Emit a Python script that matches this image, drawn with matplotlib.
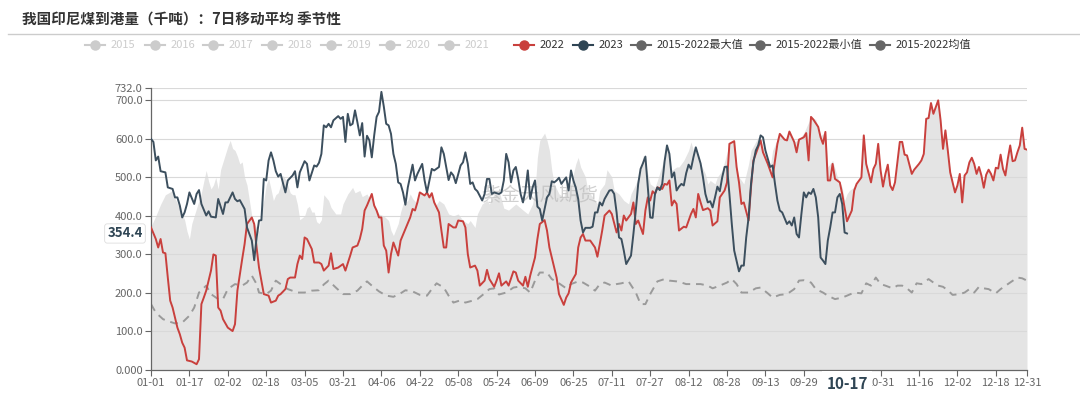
import matplotlib
matplotlib.use("Agg")
import matplotlib.pyplot as plt
from matplotlib.lines import Line2D

plt.rcParams['font.family'] = ['Noto Sans CJK SC', 'DejaVu Sans']

# 横轴：闰年日历的日序号 (0 = 01-01, 365 = 12-31)
tick_days = [0, 16, 32, 48, 64, 80, 96, 112, 128, 144, 160, 176, 192, 208,
             224, 240, 256, 272, 288, 304, 320, 336, 352, 365]
tick_labels = ['01-01', '01-17', '02-02', '02-18', '03-05', '03-21', '04-06',
               '04-22', '05-08', '05-24', '06-09', '06-25', '07-11', '07-27',
               '08-12', '08-28', '09-13', '09-29', '', '10-31', '11-16',
               '12-02', '12-18', '12-31']
y_ticks = [0, 100, 200, 300, 400, 500, 600, 700, 732]
y_labels = ['0.000', '100.0', '200.0', '300.0', '400.0', '500.0', '600.0', '700.0', '732.0']

# 2022
d2022 = [0, 2, 3, 4, 5, 6, 7, 8, 9, 11, 12, 13, 14, 15, 17, 19, 20, 21, 22, 23, 25, 26, 27, 28, 29, 30,
         32, 34, 35, 36, 38, 39, 40, 42, 43, 44, 45, 46, 47, 49, 50, 52, 53, 54, 56, 57, 58, 60, 61, 62,
         63, 64, 65, 67, 68, 70, 71, 72, 74, 75, 76, 78, 80, 81, 83, 84, 86, 87, 88, 89, 90, 92, 93, 94,
         95, 96, 97, 98, 99, 100, 101, 103, 104, 106, 108, 109, 110, 111, 112, 114, 115, 116, 117, 118,
         120, 121, 122, 123, 124, 126, 127, 128, 130, 131, 132, 133, 135, 136, 137, 139, 140, 141, 143,
         144, 145, 146, 148, 149, 151, 152, 153, 155, 156, 157, 158, 160, 161, 162, 164, 165, 166, 167,
         168, 169, 170, 172, 173, 174, 175, 177, 178, 179, 180, 181, 183, 185, 186, 187, 188, 189, 191,
         192, 194, 195, 196, 197, 198, 200, 201, 202, 203, 205, 206, 207, 208, 209, 210, 211, 213, 214,
         215, 216, 217, 218, 219, 220, 222, 223, 225, 226, 227, 228, 229, 230, 232, 233, 234, 236, 237,
         239, 240, 241, 243, 244, 245, 246, 247, 249, 250, 251, 252, 254, 255, 257, 259, 260, 261, 262,
         264, 265, 266, 268, 269, 270, 272, 273, 274, 275, 276, 278, 279, 280, 281, 282, 283, 284, 285,
         287, 288, 290, 291, 292, 293, 294, 296, 297, 298, 300, 301, 302, 303, 304, 305, 306, 307, 308,
         309, 310, 312, 313, 314, 315, 317, 318, 320, 321, 322, 323, 324, 325, 326, 328, 329, 330, 331,
         332, 333, 335, 336, 337, 338, 339, 340, 341, 342, 343, 344, 345, 346, 347, 348, 349, 350, 351,
         352, 353, 354, 355, 356, 357, 358, 359, 360, 361, 362, 363, 364, 365]
v2022 = [370, 340, 318, 340, 305, 303, 240, 180, 162, 110, 93, 71, 58, 25, 22, 15, 28, 171, 188, 206, 258, 300, 297, 162, 154, 132,
         110, 101, 119, 206, 288, 327, 379, 396, 379, 318, 266, 232, 197, 193, 175, 180, 193, 197, 210, 236, 240, 240, 275, 297,
         288, 344, 340, 314, 279, 279, 275, 258, 271, 303, 262, 266, 275, 258, 297, 318, 323, 340, 366, 414, 427, 457, 427, 414,
         396, 396, 323, 310, 253, 301, 331, 297, 336, 366, 396, 418, 414, 435, 461, 453, 461, 448, 459, 435,
         409, 362, 318, 318, 379, 370, 370, 388, 386, 370, 301, 266, 271, 258, 219, 232, 260, 236, 216,
         232, 251, 219, 230, 219, 256, 253, 232, 219, 242, 216, 245, 292, 340, 379, 389, 362, 318, 292,
         266, 240, 197, 169, 188, 199, 227, 249, 318, 344, 353, 336, 336, 318, 294, 327, 362, 401, 414,
         405, 357, 379, 362, 401, 388, 405, 435, 379, 388, 353, 414, 448, 440, 464, 457, 474, 470, 483,
         481, 492, 427, 440, 431, 362, 372, 370, 405, 418, 396, 457, 435, 415, 420, 414, 375, 386, 448,
         466, 487, 587, 594, 527, 487, 431, 435, 388, 474, 544, 561, 596, 565, 535, 500, 544, 587, 613,
         598, 596, 619, 592, 565, 598, 604, 615, 544, 657, 650, 631, 604, 587, 618, 492, 492, 535, 496,
         487, 457, 386, 400, 414, 466, 483, 500, 609, 535, 487, 522, 535, 587, 518, 476, 509, 533, 479,
         467, 487, 592, 592, 559, 557, 509, 520, 535, 544, 561, 652, 654, 693, 665, 700, 648, 574, 622,
         570, 513, 461, 479, 509, 435, 505, 513, 539, 551, 535, 509, 527, 505, 473, 507, 520, 509, 492,
         525, 523, 559, 522, 505, 548, 583, 542, 544, 565, 583, 629, 574, 572]

# 2023
d2023 = [0, 1, 2, 3, 4, 6, 7, 9, 10, 11, 12, 13, 14, 15, 16, 18, 19, 20, 21, 23, 24, 25, 27, 28, 30, 31,
         32, 34, 35, 36, 37, 39, 40, 41, 42, 43, 44, 45, 46, 47, 48, 49, 50, 51, 52, 53, 54, 56, 57, 59,
         60, 61, 62, 64, 65, 66, 68, 69, 70, 71, 72, 73, 74, 75, 76, 78, 79, 80, 81, 82, 83, 84, 85, 86,
         87, 88, 89, 90, 91, 92, 93, 94, 95, 96, 97, 98, 99, 100, 101, 102, 103, 104, 105, 106, 107, 109,
         110, 111, 113, 114, 115, 116, 117, 118, 120, 121, 122, 123, 124, 125, 126, 127, 129, 130, 131,
         132, 133, 134, 135, 136, 138, 139, 140, 141, 142, 143, 145, 146, 147, 148, 149, 150, 151, 152,
         153, 154, 155, 156, 157, 158, 159, 160, 161, 162, 163, 165, 166, 167, 168, 169, 170, 171, 172,
         173, 174, 175, 176, 177, 178, 179, 180, 181, 183, 184, 185, 186, 187, 188, 189, 191, 192, 193,
         194, 195, 196, 197, 198, 200, 201, 202, 203, 204, 205, 206, 207, 208, 209, 210, 211, 212, 213,
         214, 215, 216, 217, 218, 219, 220, 221, 222, 223, 224, 225, 226, 227, 228, 229, 230, 231, 232,
         233, 234, 235, 236, 237, 238, 239, 240, 241, 242, 243, 245, 246, 247, 248, 249, 250, 251, 252,
         253, 254, 255, 256, 257, 258, 259, 260, 261, 262, 263, 265, 266, 267, 268, 269, 270, 271, 272,
         273, 274, 275, 276, 277, 278, 279, 280, 281, 282, 283, 284, 285, 286, 287, 288, 289, 290]
v2023 = [600, 592, 544, 554, 516, 513, 474, 470, 448, 448, 427, 396, 409, 431, 461, 431, 457, 467, 431, 401, 412, 398, 396, 444, 405, 435,
         435, 461, 444, 438, 441, 418, 370, 353, 336, 285, 344, 388, 389, 496, 492, 544, 565, 544, 516, 502, 509, 461, 492, 505,
         516, 474, 513, 542, 535, 492, 531, 528, 538, 561, 635, 630, 639, 630, 648, 659, 652, 657, 592, 665, 635, 639, 674, 643,
         609, 641, 554, 608, 596, 552, 609, 657, 670, 722, 684, 639, 635, 613, 561, 535, 487, 483, 461, 429, 474, 533,
         492, 509, 535, 492, 461, 492, 522, 518, 527, 578, 561, 527, 493, 513, 505, 485, 531, 539, 565,
         535, 483, 487, 470, 464, 440, 457, 496, 496, 457, 461, 457, 461, 492, 561, 539, 487, 518, 527,
         496, 457, 435, 466, 518, 444, 474, 492, 424, 418, 388, 448, 457, 490, 487, 492, 499, 483, 492,
         500, 466, 518, 492, 473, 444, 388, 357, 369, 369, 372, 409, 409, 435, 427, 444, 466, 467, 457,
         409, 344, 340, 310, 275, 297, 353, 414, 483, 522, 537, 554, 474, 396, 395, 457, 474, 467, 483,
         542, 583, 561, 500, 513, 466, 476, 483, 479, 511, 533, 522, 552, 578, 557, 536, 500, 457, 435,
         438, 422, 448, 476, 464, 500, 527, 528, 457, 379, 310, 256, 271, 271, 344, 396, 483, 539, 570,
         583, 609, 604, 570, 548, 527, 531, 483, 440, 414, 409, 379, 386, 375, 396, 353, 344, 405, 461,
         448, 461, 457, 470, 448, 396, 292, 284, 275, 336, 370, 409, 409, 448, 457, 431, 357, 354.4]

# 2015-2022 最大值
d_max = [0, 2, 4, 6, 8, 9, 10, 12, 14, 15, 16, 17, 18, 19, 20, 21, 22, 23, 24, 25, 26, 27, 28, 29, 30, 31,
         32, 33, 34, 35, 36, 37, 38, 39, 40, 41, 42, 43, 44, 45, 46, 47, 48, 49, 50, 51, 52, 53, 54, 55,
         56, 57, 58, 59, 60, 61, 62, 63, 64, 65, 66, 67, 68, 69, 70, 71, 72, 74, 75, 77, 79, 80, 82, 84,
         85, 87, 88, 90, 91, 93, 95, 97, 99, 100, 101, 103, 104, 105, 107, 108, 109, 111, 112, 113, 114,
         116, 118, 120, 122, 124, 126, 128, 130, 132, 133, 135, 136, 138, 140, 141, 143, 145, 147, 149,
         152, 155, 157, 159, 160, 161, 162, 164, 165, 166, 167, 168, 170, 172, 173, 175, 177, 178, 179,
         181, 182, 184, 186, 187, 189, 190, 192, 193, 195, 197, 199, 200, 202, 204, 205, 206, 208, 210,
         211, 214, 215, 216, 217, 219, 220, 222, 224, 225, 226, 227, 228, 229, 231, 232, 233, 235, 236,
         238, 241, 243, 244, 245, 247, 249, 250, 253, 254, 256, 258, 259, 262, 264, 266, 268, 270, 272,
         275, 277, 279, 281, 282, 284, 286, 288, 289, 290, 291, 293, 296]
v_max = [372, 400, 430, 455, 462, 466, 445, 420, 390, 360, 340, 380, 400, 420, 440, 460, 490, 518, 490, 470, 480, 500, 470, 520, 540, 560,
         580, 596, 575, 570, 555, 535, 540, 500, 480, 440, 400, 380, 370, 360, 420, 440, 480, 497, 470, 440, 455, 460, 480, 505,
         495, 480, 460, 455, 455, 430, 390, 395, 400, 420, 425, 410, 410, 385, 380, 390, 455, 440, 422, 405, 405, 431, 457, 474,
         460, 466, 450, 457, 445, 425, 405, 400, 388, 362, 349, 380, 410, 431, 440, 457, 445, 431, 440, 410, 396,
         388, 420, 440, 431, 405, 400, 405, 388, 380, 388, 370, 405, 431, 440, 431, 457, 466, 420, 415,
         431, 415, 405, 431, 466, 552, 596, 615, 596, 570, 518, 483, 457, 449, 475, 483, 535, 552, 527,
         501, 466, 449, 431, 466, 483, 520, 501, 466, 457, 440, 431, 457, 483, 520, 557, 535, 483, 474,
         492, 552, 587, 544, 518, 527, 527, 544, 570, 592, 570, 578, 557, 535, 509, 483, 492, 483, 501,
         518, 587, 594, 527, 501, 483, 535, 570, 604, 600, 557, 527, 570, 613, 598, 619, 592, 598, 615,
         657, 650, 608, 618, 527, 544, 501, 474, 440, 457, 466, 475, 500]

# 2015-2022 均值
d_mean = [0, 2, 5, 7, 10, 13, 16, 18, 20, 23, 25, 28, 30, 32, 35, 38, 40, 42, 44, 45, 48, 50, 52, 54, 57, 61,
          64, 67, 70, 72, 74, 77, 80, 83, 86, 88, 90, 92, 95, 98, 101, 104, 106, 109, 112, 115, 117, 119,
          122, 124, 126, 129, 131, 134, 136, 139, 141, 143, 145, 148, 151, 153, 156, 158, 160, 162, 165,
          167, 170, 173, 175, 178, 180, 183, 185, 187, 189, 192, 194, 196, 199, 202, 204, 206, 208, 211,
          214, 216, 219, 221, 223, 226, 229, 232, 234, 237, 240, 242, 244, 246, 249, 252, 254, 257, 259,
          262, 265, 268, 270, 272, 275, 277, 280, 282, 285, 288, 290, 293, 296, 298, 300, 302, 304, 306,
          309, 311, 313, 315, 317, 319, 321, 324, 326, 328, 330, 332, 334, 337, 339, 341, 343, 345, 347,
          349, 352, 354, 357, 359, 361, 363, 365]
v_mean = [171, 149, 132, 127, 121, 123, 141, 162, 201, 219, 197, 184, 184, 210, 223, 219, 227, 245, 223, 201, 197, 206, 232, 223, 210, 201,
          201, 206, 207, 222, 232, 214, 197, 197, 206, 219, 230, 219, 204, 193, 190, 199, 207, 204, 195, 193, 210, 225,
          214, 193, 175, 181, 175, 180, 184, 199, 210, 212, 196, 201, 214, 216, 212, 201, 232, 253, 253,
          236, 225, 212, 223, 230, 227, 216, 206, 223, 227, 219, 223, 225, 230, 201, 171, 171, 197, 230,
          236, 232, 230, 227, 223, 223, 223, 219, 212, 219, 227, 236, 223, 201, 201, 212, 214, 199, 188,
          195, 197, 210, 232, 233, 227, 210, 201, 193, 184, 188, 193, 201, 199, 225, 219, 240, 223, 219,
          212, 219, 219, 212, 201, 225, 223, 236, 227, 219, 216, 207, 195, 197, 201, 210, 201, 216, 212,
          210, 199, 210, 223, 232, 240, 238, 232]

C22 = '#c9403d'
C23 = '#3c4f5e'
FILL = '#e4e4e4'

fig = plt.figure(figsize=(10.8, 4.08), dpi=100)
ax = fig.add_axes([151 / 1080, 1 - 370 / 408, 876 / 1080, 282 / 408])

# 灰色区域 = 历史最大值（含2022）
ax.fill_between(d_max, 0, v_max, color=FILL, lw=0, zorder=1)
ax.fill_between(d2022, 0, v2022, color=FILL, lw=0, zorder=1)

for yv in y_ticks[1:]:
    ax.axhline(yv, color='#d9d9d9', lw=0.8, zorder=1.5)

ax.text(0.444, 0.62, '紫金天风期货', transform=ax.transAxes, ha='center', va='center',
        fontsize=14, color='#bdbdbd', alpha=0.7, zorder=2)

ax.plot(d_mean, v_mean, color='#9a9a9a', lw=1.4, dashes=(4, 3), zorder=2.5)
ax.plot(d2022, v2022, color=C22, lw=1.4, zorder=3)
ax.plot(d2023, v2023, color=C23, lw=1.4, zorder=3.5)

ax.set_xlim(0, 365)
ax.set_ylim(0, 732)
ax.set_xticks(tick_days)
ax.set_xticklabels(tick_labels)
ax.set_yticks(y_ticks)
ax.set_yticklabels(y_labels)
ax.tick_params(axis='both', colors='#666666', labelsize=8, length=4, width=0.8, pad=2)
for s in ['top', 'right']:
    ax.spines[s].set_visible(False)
for s in ['left', 'bottom']:
    ax.spines[s].set_color('#666666')
    ax.spines[s].set_linewidth(0.9)

# 坐标轴指示标签
ax.annotate('10-17', xy=(290, 0), xycoords=('data', 'axes fraction'), xytext=(0, -4),
            textcoords='offset points', ha='center', va='top', fontsize=11, fontweight='bold',
            color='#2f4554', bbox=dict(boxstyle='square,pad=0.3', fc='white', ec='none'), zorder=5,
            annotation_clip=False)
ax.annotate('354.4', xy=(0, 354.4), xycoords=('axes fraction', 'data'), xytext=(-6, 0),
            textcoords='offset points', ha='right', va='center', fontsize=9.5, fontweight='bold',
            color='#2f4554', bbox=dict(boxstyle='round,pad=0.2', fc='white', ec='#dddddd', lw=0.6),
            zorder=5, annotation_clip=False)

# 标题
fig.text(22 / 1080, 1 - 20 / 408, '我国印尼煤到港量（千吨）：7日移动平均 季节性', fontsize=10.5,
         fontweight='bold', color='#333333', ha='left', va='center')
fig.add_artist(Line2D([8 / 1080, 1.0], [1 - 34 / 408] * 2, color='#cccccc', lw=1))

# 图例
legend_items = [('2015', 95, '#cccccc', '#cccccc'), ('2016', 155, '#cccccc', '#cccccc'),
                ('2017', 213, '#cccccc', '#cccccc'), ('2018', 272, '#cccccc', '#cccccc'),
                ('2019', 331, '#cccccc', '#cccccc'), ('2020', 390, '#cccccc', '#cccccc'),
                ('2021', 449, '#cccccc', '#cccccc'), ('2022', 524, C22, '#333333'),
                ('2023', 583, '#2f4554', '#333333'), ('2015-2022最大值', 641, '#666666', '#333333'),
                ('2015-2022最小值', 760, '#666666', '#333333'), ('2015-2022均值', 880, '#666666', '#333333')]
ly = 1 - 45 / 408
for label, cx, icol, tcol in legend_items:
    fig.add_artist(Line2D([(cx - 10) / 1080, (cx + 10) / 1080], [ly, ly], color=icol, lw=1.5))
    fig.add_artist(Line2D([cx / 1080], [ly], color=icol, marker='o', markersize=6.5, lw=0))
    fig.text((cx + 16) / 1080, ly, label, fontsize=8, color=tcol, ha='left', va='center')

fig.savefig('out.png', dpi=100)
